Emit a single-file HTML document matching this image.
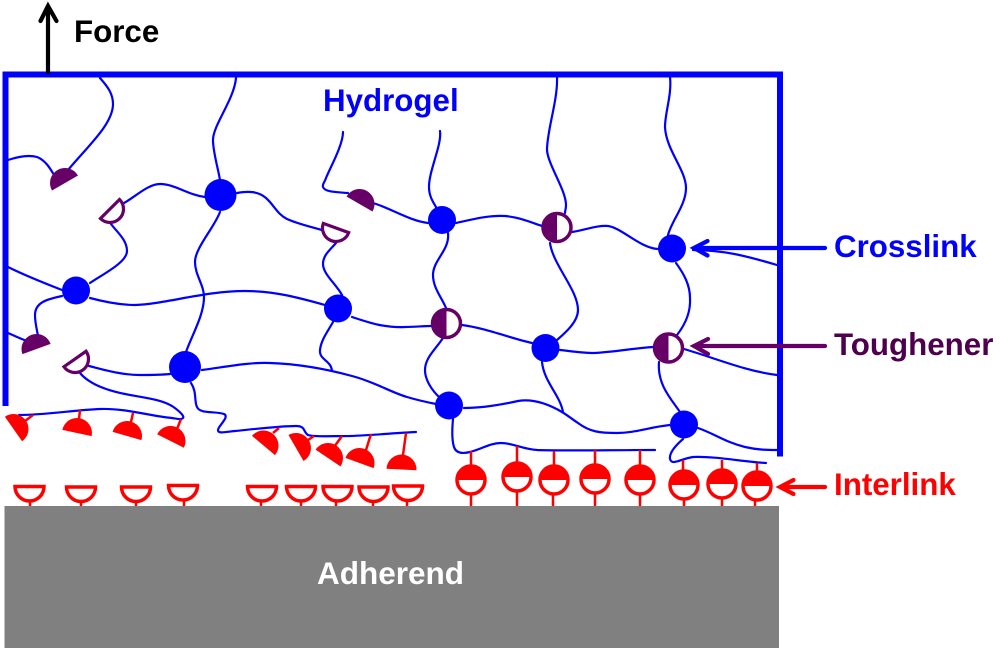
<!DOCTYPE html>
<html><head><meta charset="utf-8"><style>
html,body{margin:0;padding:0;background:#fff}
svg{display:block}
text{font-family:"Liberation Sans",sans-serif;font-weight:bold;font-size:31.3px}
</style></head><body>
<svg width="1000" height="650" viewBox="0 0 1000 650" xmlns="http://www.w3.org/2000/svg">
<rect x="4.500" y="506" width="774.500" height="142" fill="#808080"/>
<g fill="none" stroke="#0000ff" stroke-width="2.200" stroke-linecap="round">
<path d="M100,78C108,87 113,94 113,104C113,124 88,146 68,170"/>
<path d="M8,160C20,156 30,155 37,157C45,160 50,168 54,175"/>
<path d="M236,78C234,100 213,125 213,140C213,152 218,168 220,180"/>
<path d="M124,203C135,197 148,184 160,184C175,184 188,195 205,197"/>
<path d="M237,193C248,191 258,191 266,198C274,205 277,214 287,219C298,224 312,227 325,231"/>
<path d="M343,132C343,145 330,168 326,178C325,182 322,184 323,187C325,192 335,192 348,193"/>
<path d="M373,203C390,208 410,221 428,223"/>
<path d="M440,131C442,145 429,170 429,187C429,196 433,202 436,207"/>
<path d="M456,223C470,220 488,215 505,216C518,217 530,222 542,226"/>
<path d="M557,77C558,100 547,130 547,150C548,165 566,190 566,205C566,209 565,211 565,213"/>
<path d="M572,232C585,230 598,225 608,226C622,228 640,248 658,249"/>
<path d="M670,77C672,95 665,112 665,127C666,150 686,170 686,188C686,205 672,220 668,235"/>
<path d="M693,250C725,250 750,257 777,265"/>
<path d="M676,263C684,274 690,285 690,298C691,314 684,326 677,335"/>
<path d="M684,349C715,358 745,371 777,375"/>
<path d="M659,362C657,385 672,400 680,412"/>
<path d="M698,428C715,434 725,442 745,447C758,450 768,450 777,450"/>
<path d="M683,439C675,446 669,453 670,459C672,466 680,459 693,457C715,456 745,462 766,463"/>
<path d="M670,425C650,427 635,433 617,433C600,433 590,432 578,423C572,419 567,415 562,412C545,402 530,399 518,401C500,405 482,408 464,408"/>
<path d="M542,362C544,382 560,395 563,412"/>
<path d="M550,243C553,265 578,290 578,310C578,322 565,333 557,340"/>
<path d="M560,350C570,351 582,353 594,353C615,352 635,348 653,347"/>
<path d="M462,325C485,328 510,338 532,343"/>
<path d="M352,317C370,323 385,328 405,327C415,327 423,326 431,326"/>
<path d="M443,338C435,350 425,358 425,370C425,380 432,390 438,396"/>
<path d="M448,233C450,250 433,260 433,275C433,288 442,298 446,308"/>
<path d="M453,419C452,430 452,441 454,447C456,453 462,454 470,452C482,449 490,443 501,443C513,443 522,449 537,450C560,451 610,450 655,450"/>
<path d="M202,370C225,367 250,362 270,363C300,364 330,370 352,376C375,382 390,392 407,397C417,400 426,402 436,404"/>
<path d="M332,371C331,360 319,360 320,350C321,340 328,331 333,322"/>
<path d="M90,283C105,273 127,262 127,251C127,240 117,232 111,224"/>
<path d="M8,267C26,276 44,283 62,290"/>
<path d="M62,296C48,299 35,302 35,315C35,323 37,330 38,336"/>
<path d="M8,333C15,336 21,339 27,341"/>
<path d="M90,298C105,302 120,305 135,305C165,304 205,291 245,291C275,291 300,298 325,305"/>
<path d="M220,212C214,228 195,248 195,262C195,275 204,285 204,297C204,315 192,335 186,352"/>
<path d="M89,366C105,370 122,375 140,375C150,375 160,375 170,374"/>
<path d="M80,373C90,385 110,391 125,394C145,398 160,399 172,406C178,410 185,416 183,418C181,420 178,419 172,418C150,416 125,408 100,409C75,410 45,415 19,415"/>
<path d="M191,383C197,392 194,401 197,407C200,414 215,411 224,414C230,417 218,426 218,430C218,434 225,432 235,431C255,429 280,426 296,426C306,426 303,432 308,435C314,437 330,436 350,436C375,435 395,433 416,432"/>
<path d="M336,243C330,250 323,255 323,264C323,274 336,284 342,295"/>
</g>
<g fill="#0000ff">
<circle cx="220.500" cy="195" r="16"/><circle cx="76" cy="290.500" r="14"/><circle cx="185" cy="367" r="16"/>
<circle cx="338" cy="308.500" r="14"/><circle cx="442" cy="220" r="14"/><circle cx="449" cy="405.500" r="14"/>
<circle cx="545.500" cy="348" r="14"/><circle cx="672" cy="248.500" r="14"/><circle cx="684" cy="424.500" r="14"/>
</g>
<g fill="#660066">
<path transform="translate(65,183) rotate(-30)" d="M-15,0A15,15 0 0 1 15,0Z"/>
<path transform="translate(36.500,349) rotate(-20)" d="M-15,0A15,15 0 0 1 15,0Z"/>
<path transform="translate(359.500,204) rotate(30)" d="M-15,0A15,15 0 0 1 15,0Z"/>
</g>
<g fill="#fff" stroke="#660066" stroke-width="3.200">
<path transform="translate(110,209) rotate(-45)" d="M-13.500,0A13.500,13.500 0 0 0 13.500,0Z"/>
<path transform="translate(75,359) rotate(-35)" d="M-13.500,0A13.500,13.500 0 0 0 13.500,0Z"/>
<path transform="translate(336,228) rotate(20)" d="M-13.500,0A13.500,13.500 0 0 0 13.500,0Z"/>
</g>
<g>
<g transform="translate(557,227.500)"><circle r="14" fill="#fff" stroke="#660066" stroke-width="3.500"/><path d="M0,-14A14,14 0 0 0 0,14Z" fill="#660066"/></g>
<g transform="translate(446.500,323.500)"><circle r="14" fill="#fff" stroke="#660066" stroke-width="3.500"/><path d="M0,-14A14,14 0 0 0 0,14Z" fill="#660066"/></g>
<g transform="translate(668.500,348)"><circle r="14" fill="#fff" stroke="#660066" stroke-width="3.500"/><path d="M0,-14A14,14 0 0 0 0,14Z" fill="#660066"/></g>
</g>
<g stroke="#ff0000" stroke-width="2.500" fill="none">
<path d="M33,415L25,421M80,410L79,419M133,413L131,422M181,419L177,429M279,428L273,433M314,436L308,440M342,436L334,447M371,434L366,450M406,433L403,455"/>
<path d="M30,500V506M81,500V506M136,500V506M184,500V506M261,500V506M301,500V506M336,500V506M373,500V506M407,500V506"/>
<path d="M471,451V466M517,446V462M554,451V466M595,450V464M640,450V466M683,460V470M722,460V469M757,463V471"/>
<path d="M471,495V506M517,492V506M553,495V506M595,494V506M640,495V506M684,500V506M722,499V506M755,501V506"/>
</g>
<g fill="#ff0000">
<path transform="translate(13.500,429) rotate(55)" d="M-15,0A15,15 0 0 1 15,0Z"/>
<path transform="translate(77,433) rotate(12)" d="M-15,0A15,15 0 0 1 15,0Z"/>
<path transform="translate(127,436) rotate(16)" d="M-15,0A15,15 0 0 1 15,0Z"/>
<path transform="translate(170.500,441) rotate(27)" d="M-15,0A15,15 0 0 1 15,0Z"/>
<path transform="translate(263.500,445.500) rotate(40)" d="M-15,0A15,15 0 0 1 15,0Z"/>
<path transform="translate(296,448) rotate(60)" d="M-15,0A15,15 0 0 1 15,0Z"/>
<path transform="translate(328,458) rotate(34)" d="M-15,0A15,15 0 0 1 15,0Z"/>
<path transform="translate(359.500,463) rotate(20)" d="M-15,0A15,15 0 0 1 15,0Z"/>
<path transform="translate(401.500,469.500) rotate(3)" d="M-15,0A15,15 0 0 1 15,0Z"/>
</g>
<g fill="#fff" stroke="#ff0000" stroke-width="3.500">
<path d="M15,486.500A14.500,14.500 0 0 0 44,486.500Z"/>
<path d="M66.500,487A14.500,14.500 0 0 0 95.500,487Z"/>
<path d="M121.500,487A14.500,14.500 0 0 0 150.500,487Z"/>
<path d="M168.500,485.500A14.500,14.500 0 0 0 197.500,485.500Z"/>
<path d="M247.500,486.500A14.500,14.500 0 0 0 276.500,486.500Z"/>
<path d="M286.500,486.500A14.500,14.500 0 0 0 315.500,486.500Z"/>
<path d="M323,486.500A14.500,14.500 0 0 0 352,486.500Z"/>
<path d="M359,487A14.500,14.500 0 0 0 388,487Z"/>
<path d="M393.500,486A14.500,14.500 0 0 0 422.500,486Z"/>
</g>
<g>
<g transform="translate(471,480)"><circle r="14" fill="#fff" stroke="#f00" stroke-width="3.500"/><path d="M-14,0A14,14 0 0 1 14,0Z" fill="#f00"/></g>
<g transform="translate(517,477)"><circle r="14" fill="#fff" stroke="#f00" stroke-width="3.500"/><path d="M-14,0A14,14 0 0 1 14,0Z" fill="#f00"/></g>
<g transform="translate(554,480)"><circle r="14" fill="#fff" stroke="#f00" stroke-width="3.500"/><path d="M-14,0A14,14 0 0 1 14,0Z" fill="#f00"/></g>
<g transform="translate(595,479)"><circle r="14" fill="#fff" stroke="#f00" stroke-width="3.500"/><path d="M-14,0A14,14 0 0 1 14,0Z" fill="#f00"/></g>
<g transform="translate(640,480)"><circle r="14" fill="#fff" stroke="#f00" stroke-width="3.500"/><path d="M-14,0A14,14 0 0 1 14,0Z" fill="#f00"/></g>
<g transform="translate(684,485)"><circle r="14" fill="#fff" stroke="#f00" stroke-width="3.500"/><path d="M-14,0A14,14 0 0 1 14,0Z" fill="#f00"/></g>
<g transform="translate(722,484)"><circle r="14" fill="#fff" stroke="#f00" stroke-width="3.500"/><path d="M-14,0A14,14 0 0 1 14,0Z" fill="#f00"/></g>
<g transform="translate(757,486)"><circle r="14" fill="#fff" stroke="#f00" stroke-width="3.500"/><path d="M-14,0A14,14 0 0 1 14,0Z" fill="#f00"/></g>
</g>
<path d="M5.500,406V74.500H782M780,71.500V456.500" fill="none" stroke="#0000ff" stroke-width="6"/>
<g fill="none" stroke-width="4.200" stroke-linecap="round" stroke-linejoin="miter">
<path d="M48,72V8M40.500,21L48,6L56.500,21" stroke="#000"/>
<path d="M825,248H695M707.500,241L694,248L707.500,255.500" stroke="#0000ff"/>
<path d="M825,346H695M708,339L694,346L708,354" stroke="#660066"/>
<path d="M825,487H781M793.500,480L780,487L793.500,494" stroke="#ff0000"/>
</g>
<text x="74" y="42" fill="#000">Force</text>
<text x="323" y="111" fill="#0000ff">Hydrogel</text>
<text x="834" y="257" fill="#0000ff">Crosslink</text>
<text x="834" y="355" fill="#4d004d">Toughener</text>
<text x="834" y="495" fill="#ff0000">Interlink</text>
<text x="317" y="584" fill="#ffffff" style="font-size:31.500px">Adherend</text>
</svg>
</body></html>
